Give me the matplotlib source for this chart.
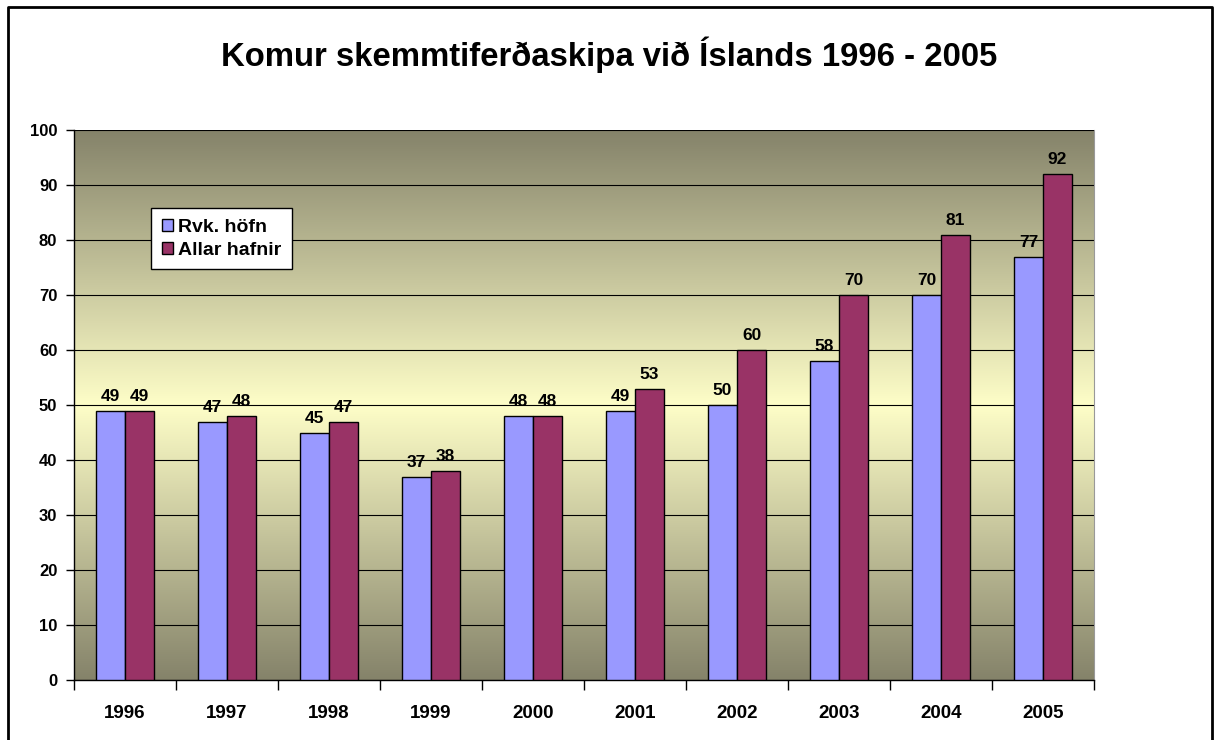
import numpy as np
import matplotlib
matplotlib.use("Agg")
import matplotlib.pyplot as plt
from matplotlib.colors import LinearSegmentedColormap

plt.rcParams['font.family'] = ['Liberation Sans', 'DejaVu Sans']
plt.rcParams['font.weight'] = 'bold'

years = ['1996', '1997', '1998', '1999', '2000', '2001', '2002', '2003', '2004', '2005']
rvk = [49, 47, 45, 37, 48, 49, 50, 58, 70, 77]
allar = [49, 48, 47, 38, 48, 53, 60, 70, 81, 92]

fig = plt.figure(figsize=(12.18, 7.40), dpi=100)
ax = fig.add_axes([74 / 1218, 60 / 740, 1020 / 1218, 550 / 740])

# background gradient: dark at top and bottom, light in the middle
cmap = LinearSegmentedColormap.from_list('bg', ['#85836a', '#fefec8', '#85836a'])
grad = np.linspace(0, 1, 256).reshape(-1, 1)
ax.imshow(grad, cmap=cmap, aspect='auto', extent=[-0.5, 9.5, 0, 100], zorder=0)

x = np.arange(len(years))
w = 0.285
ax.bar(x - w / 2, rvk, w, color='#9999ff', edgecolor='black', linewidth=1, zorder=3, label='Rvk. höfn')
ax.bar(x + w / 2, allar, w, color='#993366', edgecolor='black', linewidth=1, zorder=3, label='Allar hafnir')

for i in range(len(years)):
    ax.annotate(str(rvk[i]), (x[i] - w / 2, rvk[i]), xytext=(0, 5), textcoords='offset points',
                ha='center', va='bottom', fontsize=12.5, fontweight='bold')
    ax.annotate(str(allar[i]), (x[i] + w / 2, allar[i]), xytext=(0, 5), textcoords='offset points',
                ha='center', va='bottom', fontsize=12.5, fontweight='bold')

ax.set_xlim(-0.5, 9.5)
ax.set_ylim(0, 100)
ax.set_yticks(range(0, 101, 10))
ax.yaxis.grid(True, color='black', linewidth=0.8, zorder=1)
ax.set_axisbelow(True)

ax.set_xticks(x)
ax.set_xticklabels(years, fontsize=13.5, fontweight='bold')
ax.tick_params(axis='x', length=0, pad=18)
ax.set_xticks(np.arange(-0.5, 10, 1), minor=True)
ax.tick_params(axis='x', which='minor', length=7, width=1, direction='out')
ax.tick_params(axis='y', length=6, width=1, direction='out', labelsize=12, pad=6)
for lab in ax.get_yticklabels():
    lab.set_fontweight('bold')

ax.spines['top'].set_visible(False)
ax.spines['right'].set_color('#999999')
ax.spines['right'].set_linewidth(0.8)
ax.spines['left'].set_linewidth(1)
ax.spines['bottom'].set_linewidth(1)

leg = ax.legend(loc='upper left', bbox_to_anchor=(77 / 1020, 1 - 78 / 550), frameon=True,
                fancybox=False, shadow=False, framealpha=1, prop={'size': 14, 'weight': 'bold'},
                handlelength=0.6, handleheight=0.6, handletextpad=0.25, borderpad=0.55,
                labelspacing=0.3, borderaxespad=0)
leg.get_frame().set_edgecolor('black')
leg.get_frame().set_linewidth(1)
leg.get_frame().set_facecolor('white')

fig.suptitle('Komur skemmtiferðaskipa við Íslands 1996 - 2005', fontsize=23.7, fontweight='bold',
             y=1 - 55 / 740, va='center')

# figure border (left, top, right)
fig.add_artist(plt.Line2D([8 / 1218, 8 / 1218, 1212 / 1218, 1212 / 1218],
                          [0, 1 - 7 / 740, 1 - 7 / 740, 0], color='black', linewidth=2,
                          transform=fig.transFigure))

fig.savefig('out.png', dpi=100)
